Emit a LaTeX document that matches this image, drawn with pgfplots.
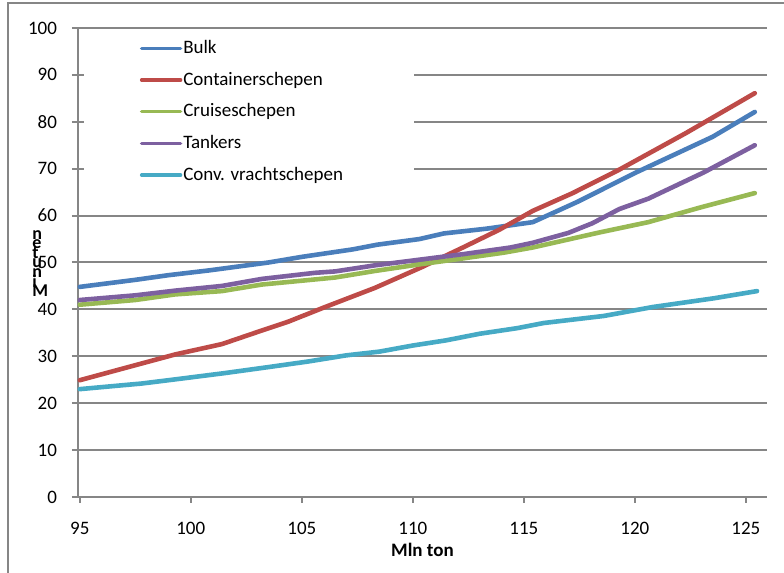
\documentclass[border=0pt]{standalone}
\usepackage{fontspec}
\setmainfont{Carlito}
\usepackage{pgfplots}
\pgfplotsset{compat=1.18}
\definecolor{xlblue}{HTML}{4A7EBB}
\definecolor{xlred}{HTML}{BE4B48}
\definecolor{xlgreen}{HTML}{98B954}
\definecolor{xlpurple}{HTML}{7D60A0}
\definecolor{xlcyan}{HTML}{46AAC5}
\definecolor{xlgrid}{HTML}{868686}
\newcommand\stackfont{\bfseries\fontsize{9}{4.8}\selectfont\lineskiplimit=-20pt\relax\lineskip=0pt\relax}

\begin{document}
\begin{tikzpicture}
\useasboundingbox (-39pt,-38pt) rectangle (353pt,248.5pt);
\draw[xlgrid, line width=1pt] (-35pt,-60pt) -- (-35pt,246.75pt) -- (370pt,246.75pt);
\begin{axis}[
	at={(0,0)}, anchor=south west,
	scale only axis,
	width=344.5pt, height=234.5pt,
	font=\fontsize{9.5}{11}\selectfont,
	/pgf/number format/assume math mode=true,
	xmin=94.92, xmax=125.95,
	ymin=0, ymax=100,
	xtick={95,100,...,125},
	ytick={0,10,...,100},
	axis x line*=bottom,
	axis y line*=left,
	axis line style={xlgrid, line width=1.2pt, -},
	tick style={xlgrid, line width=1pt},
	tick align=outside,
	major tick length=3pt,
	ymajorgrids=true,
	grid style={xlgrid, line width=1pt},
	xticklabel style={yshift=-6pt},
	yticklabel style={xshift=-4pt},
	xlabel={\textbf{Mln ton}},
	xlabel style={at={(axis description cs:0.5,0)}, anchor=center, yshift=-26.5pt},
	legend style={at={(axis cs:97.42,98.3)}, anchor=north west, draw=none, fill=none,
		font=\fontsize{9.5}{11}\selectfont,
		nodes={inner sep=0pt, text height=6.5pt, text depth=1.5pt},
		row sep=7.85pt, column sep=0.5pt},
	legend cell align=left,
	legend image code/.code={\draw[#1, line width=1.7pt, line cap=round] (0pt,0pt) -- (19.5pt,0pt);},
	every axis plot/.append style={line width=2.3pt, line cap=round, line join=round},
	clip=false,
]
\fill[white] (axis cs:95.2,65) rectangle (axis cs:110.06,99.5);

\addplot[xlblue] coordinates {
	(95,44.8)(97.5,46.3)(99,47.3)(100.8,48.3)(103.5,50)(105,51.2)(107.3,52.8)(108.4,53.8)
	(110.3,55)(111.4,56.2)(113.3,57.2)(115.4,58.6)(117.4,62.9)(120.1,69.3)(123.5,76.8)(125.4,82.1)
};
\addplot[xlred] coordinates {
	(95,24.9)(97.5,28.1)(99.3,30.4)(101.4,32.6)(103.2,35.5)(104.4,37.4)(106.1,40.6)(108.3,44.6)
	(110.4,49)(112.3,53.3)(113.9,57)(115.4,61)(117.2,64.8)(119.3,69.8)(122.3,77.6)(125.4,86.1)
};
\addplot[xlgreen] coordinates {
	(95,41)(97.5,42)(99.3,43.2)(101.4,43.9)(103.2,45.3)(106.5,46.8)(108.3,48.2)(110.3,49.6)
	(112.3,50.9)(114.1,52.1)(115.4,53.2)(118.4,56.4)(120.6,58.6)(123,61.8)(125.4,64.8)
};
\addplot[xlpurple] coordinates {
	(95,42)(97.5,43)(99.3,44)(101.4,45)(103.2,46.5)(105.6,47.8)(106.5,48.1)(108.3,49.4)
	(110.3,50.6)(112.3,51.8)(114.4,53.2)(115.4,54.2)(117,56.3)(118.1,58.4)(119.3,61.4)(120.6,63.6)
	(123.1,69.2)(125.4,75)
};
\addplot[xlcyan] coordinates {
	(95,23)(97.8,24.2)(99.5,25.2)(101.5,26.4)(103.5,27.7)(105.3,28.9)(107,30.2)(108.5,31)
	(110,32.3)(111.5,33.4)(113,34.8)(114.7,36)(115.9,37.1)(118.6,38.6)(120.8,40.5)(123.6,42.4)(125.5,43.9)
};
\legend{Bulk,Containerschepen,Cruiseschepen,Tankers,Conv. vrachtschepen}

% y-axis title as in the source: letters stacked and overlapping
\node[font=\stackfont, align=left, inner sep=0pt, anchor=south west]
	at (axis description cs:-0.0668,0.4264) {n\\e\\t\\u\\n\\i\\M};
\end{axis}
\end{tikzpicture}
\end{document}
